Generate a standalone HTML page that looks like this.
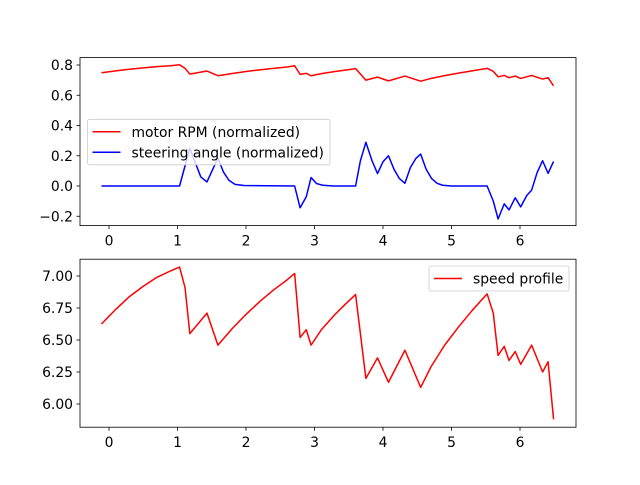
<!DOCTYPE html>
<html><head><meta charset="utf-8"><style>
body{margin:0;background:#fff}
svg text{font-family:"DejaVu Sans","Liberation Sans",sans-serif;font-size:13.9px;fill:#000}
</style></head><body>
<svg id="fig" width="640" height="480" viewBox="0 0 640 480" xmlns="http://www.w3.org/2000/svg"></svg>
<script>
const timeTop = [-0.11,0.1,0.3,0.5,0.7,0.9,1.03,1.11,1.18,1.43,1.59,1.8,2.0,2.2,2.4,2.6,2.71,2.79,2.88,2.95,3.1,3.3,3.45,3.60,3.75,3.92,4.08,4.32,4.55,4.7,4.9,5.1,5.3,5.52,5.61,5.68,5.77,5.84,5.93,6.01,6.17,6.33,6.41,6.49];
const rpmValues = [0.749,0.761,0.772,0.781,0.789,0.795,0.802,0.778,0.740,0.760,0.729,0.744,0.757,0.768,0.778,0.787,0.795,0.738,0.745,0.729,0.743,0.757,0.766,0.776,0.700,0.720,0.695,0.727,0.693,0.711,0.730,0.746,0.761,0.778,0.758,0.722,0.731,0.716,0.727,0.711,0.731,0.707,0.716,0.662];
const steerTime = [-0.11,1.03,1.18,1.34,1.43,1.59,1.67,1.75,1.84,1.97,2.71,2.79,2.88,2.95,3.03,3.12,3.28,3.60,3.67,3.75,3.84,3.92,4.00,4.08,4.16,4.24,4.32,4.40,4.48,4.55,4.63,4.71,4.79,4.87,5.0,5.52,5.61,5.68,5.77,5.84,5.93,6.01,6.10,6.17,6.25,6.33,6.41,6.49];
const steerValues = [0,0,0.249,0.06,0.027,0.185,0.093,0.038,0.011,0.003,0,-0.144,-0.071,0.056,0.016,0.005,0,0,0.167,0.289,0.167,0.082,0.16,0.2,0.111,0.049,0.018,0.122,0.182,0.211,0.111,0.049,0.018,0.005,0,0,-0.1,-0.218,-0.118,-0.158,-0.078,-0.138,-0.062,-0.027,0.089,0.167,0.084,0.162];
const speedTime = [-0.11,0.1,0.3,0.5,0.7,0.9,1.03,1.11,1.18,1.43,1.59,1.8,2.0,2.2,2.4,2.6,2.71,2.79,2.88,2.95,3.1,3.3,3.45,3.60,3.75,3.92,4.08,4.32,4.55,4.7,4.9,5.1,5.3,5.52,5.61,5.68,5.77,5.84,5.93,6.01,6.17,6.33,6.41,6.49];
const speedValues = [6.625,6.74,6.84,6.92,6.99,7.04,7.07,6.91,6.55,6.71,6.46,6.59,6.70,6.80,6.89,6.97,7.02,6.52,6.58,6.46,6.58,6.70,6.78,6.855,6.20,6.36,6.17,6.42,6.13,6.29,6.46,6.60,6.73,6.86,6.71,6.38,6.45,6.34,6.41,6.31,6.46,6.25,6.33,5.88];
const xTicks = [0,1,2,3,4,5,6];
const topYTicks = [-0.2,0.0,0.2,0.4,0.6,0.8];
const botYTicks = [6.00,6.25,6.50,6.75,7.00];

const svg = document.getElementById('fig');
const NS = 'http://www.w3.org/2000/svg';
function mk(tag, attrs, parent){const e=document.createElementNS(NS,tag);for(const k in attrs)e.setAttribute(k,attrs[k]);(parent||svg).appendChild(e);return e;}
const L=80,R=576;
const xs = t => 109 + t*68.5;
const yTop = v => 186 - v*151.25;
const yBot = v => 276 + (7-v)*128;

function axes(top,bottom,ys,yticks,fmt,name){
  const g=mk('g',{});
  
  
  xTicks.forEach(t=>{
    const x=xs(t);
    mk('line',{x1:x,x2:x,y1:bottom,y2:bottom+3.5,stroke:'#000','stroke-width':0.8},g);
    const tx=mk('text',{x:x,y:bottom+20,'text-anchor':'middle'},g);
    
    
    tx.textContent=t;
  });
  yticks.forEach(v=>{
    const y=ys(v);
    mk('line',{x1:L-3.5,x2:L,y1:y,y2:y,stroke:'#000','stroke-width':0.8},g);
    const tx=mk('text',{x:L-7,y:y+5,'text-anchor':'end'},g);
    
    
    tx.textContent=fmt(v).replace('-','\u2212');
  });
  return g;
}
function line(ts,vs,ys,color,name){
  const p=mk('polyline',{points:ts.map((t,i)=>xs(t)+','+ys(vs[i])).join(' '),fill:'none',stroke:color,'stroke-width':1.5,'stroke-linejoin':'round'});
  
  
}
function frame(top,bottom,name){
  const r=mk('rect',{x:L,y:top,width:R-L,height:bottom-top,fill:'none',stroke:'#000','stroke-width':0.8});
  
  
}
axes(57.6,225.6,yTop,topYTicks,v=>v.toFixed(1),'top-axes');
line(timeTop,rpmValues,yTop,'#ff0000','motor-rpm-line');
line(steerTime,steerValues,yTop,'#0000ff','steering-angle-line');
frame(57.6,225.6,'top-plot-frame');
axes(259.2,427.2,yBot,botYTicks,v=>v.toFixed(2),'bottom-axes');
line(speedTime,speedValues,yBot,'#ff0000','speed-profile-line');
frame(259.2,427.2,'bottom-plot-frame');

function legend(x,y,w,h,items,name){
  const g=mk('g',{});
  
  
  mk('rect',{x:x,y:y,width:w,height:h,rx:2,fill:'#fff','fill-opacity':0.8,stroke:'#ccc','stroke-width':0.8},g);
  items.forEach((it,i)=>{
    const cy=y+12.5+i*20.5;
    mk('line',{x1:x+5,x2:x+33,y1:cy,y2:cy,stroke:it[1],'stroke-width':1.5},g);
    const tx=mk('text',{x:x+44,y:cy+5},g);
    
    
    tx.textContent=it[0];
  });
}
legend(87.5,119.3,242.5,45.5,[['motor RPM (normalized)','#ff0000'],['steering angle (normalized)','#0000ff']],'top-legend');
legend(429,266,140,25,[['speed profile','#ff0000']],'bottom-legend');
</script>
</body></html>
